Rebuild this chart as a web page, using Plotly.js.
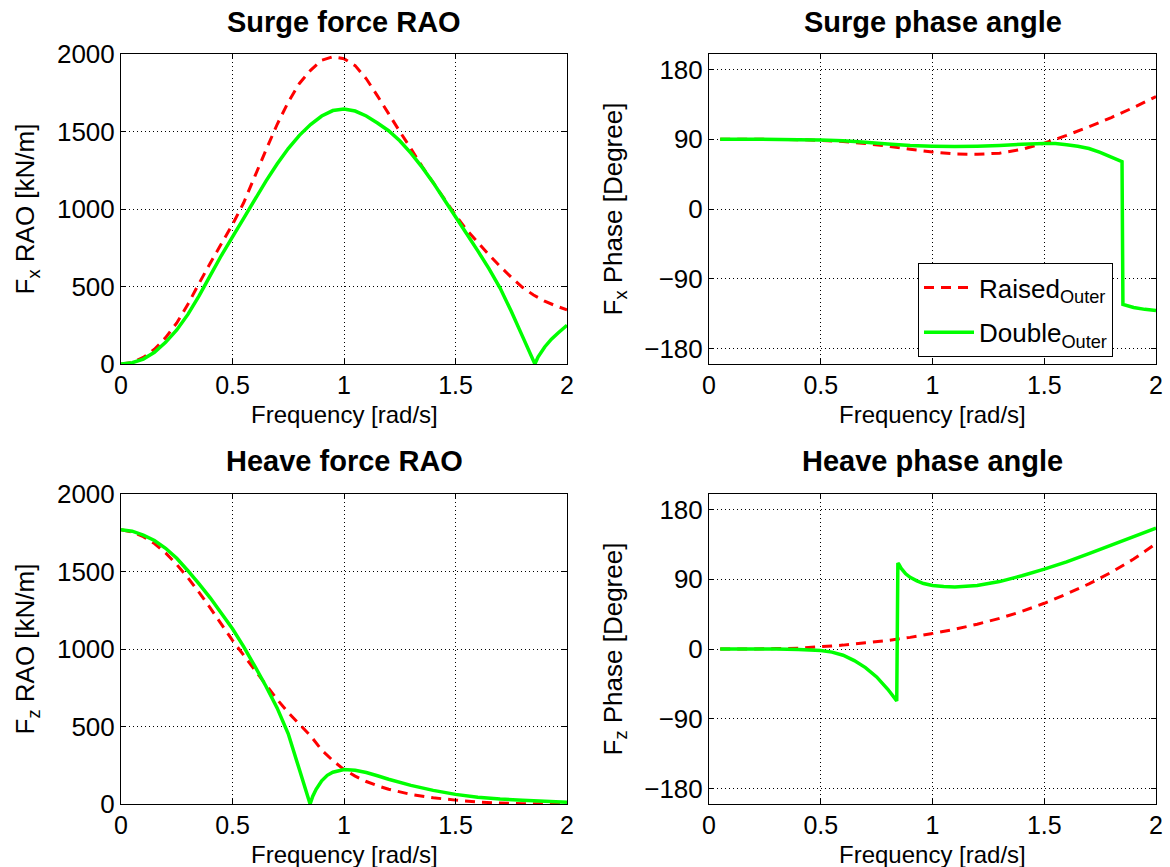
<!DOCTYPE html>
<html>
<head>
<meta charset="utf-8">
<script src="https://cdn.plot.ly/plotly-3.0.1.min.js"></script>
<style>html,body{margin:0;padding:0;background:#fff}#chart{width:1170px;height:867px}</style>
</head>
<body>
<div id="chart"></div>
<script>
// ---------- Surge force RAO ----------
const surgeRaoFreq = [0,0.05,0.1,0.15,0.2,0.25,0.3,0.35,0.4,0.45,0.5,0.55,0.6,0.65,0.7,0.75,0.8,0.85,0.9,0.95,1.0,1.05,1.1,1.15,1.2,1.25,1.3,1.35,1.4,1.45,1.5,1.55,1.6,1.65,1.7,1.75,1.8,1.85,1.9,1.95,2.0];
const surgeRaoRaised = [0,10,42,95,170,265,385,520,650,775,900,1040,1210,1380,1545,1690,1810,1895,1960,1982,1970,1925,1840,1730,1615,1500,1390,1275,1170,1065,960,865,785,705,630,560,495,445,405,375,350];
const surgeRaoDoubleFreq = [0,0.05,0.1,0.15,0.2,0.25,0.3,0.35,0.4,0.45,0.5,0.55,0.6,0.65,0.7,0.75,0.8,0.85,0.9,0.95,1.0,1.05,1.1,1.15,1.2,1.25,1.3,1.35,1.4,1.45,1.5,1.55,1.6,1.65,1.7,1.75,1.8,1.856,1.87,1.9,1.93,1.96,2.0];
const surgeRaoDouble = [0,8,32,75,140,220,320,440,570,700,820,940,1060,1180,1290,1390,1475,1545,1600,1635,1645,1632,1600,1555,1505,1440,1360,1270,1170,1060,950,840,730,615,490,340,180,0,45,110,160,200,250];

// ---------- Surge phase angle ----------
const surgePhaseRaisedFreq = [0.05,0.2,0.4,0.5,0.6,0.7,0.8,0.9,1.0,1.1,1.2,1.3,1.4,1.5,1.6,1.7,1.8,1.9,2.0];
const surgePhaseRaised = [90,90,89.5,88.5,87,84.5,81,77,73.5,71,70.5,72,77,85,95,106,118,131,145];
const surgePhaseDoubleFreq = [0.05,0.2,0.4,0.5,0.6,0.7,0.8,0.9,1.0,1.1,1.2,1.3,1.4,1.5,1.55,1.6,1.65,1.7,1.75,1.8,1.848,1.852,1.9,1.95,2.0];
const surgePhaseDouble = [90,90,89.5,89,88,86,84,82,81,80.5,81,82,83.5,84.5,84.5,83,81,78,73,67,61,-123,-127,-129.5,-131];

// ---------- Heave force RAO ----------
const heaveRaoRaisedFreq = [0,0.05,0.1,0.15,0.2,0.25,0.3,0.35,0.4,0.45,0.5,0.55,0.6,0.65,0.7,0.75,0.8,0.85,0.9,0.95,1.0,1.05,1.1,1.15,1.2,1.3,1.4,1.5,1.6,1.7,1.8,1.9,2.0];
const heaveRaoRaised = [1770,1755,1725,1680,1620,1545,1460,1365,1265,1160,1055,960,865,770,675,590,515,440,348,280,222,180,145,118,95,62,40,25,13,6,2,1,0];
const heaveRaoDoubleFreq = [0,0.05,0.1,0.15,0.2,0.25,0.3,0.35,0.4,0.45,0.5,0.55,0.6,0.65,0.7,0.75,0.8,0.848,0.86,0.875,0.9,0.925,0.95,1.0,1.05,1.1,1.15,1.2,1.3,1.4,1.5,1.6,1.7,1.8,1.9,2.0];
const heaveRaoDouble = [1770,1760,1735,1700,1650,1585,1505,1420,1330,1230,1130,1015,890,760,620,453,222,0,50,95,150,185,205,222,218,203,182,160,120,88,62,44,32,24,17,12];

// ---------- Heave phase angle ----------
const heavePhaseRaisedFreq = [0.05,0.2,0.3,0.4,0.5,0.6,0.7,0.8,0.9,1.0,1.1,1.2,1.3,1.4,1.5,1.6,1.7,1.8,1.9,2.0];
const heavePhaseRaised = [0,0,0.5,1,3,5,8,11,15,20,25.5,32,39.5,48.5,59,71,84,99,116,136];
const heavePhaseDoubleFreq = [0.05,0.2,0.3,0.4,0.5,0.55,0.6,0.65,0.7,0.75,0.8,0.84,0.845,0.85,0.86,0.88,0.9,0.93,0.96,1.0,1.05,1.1,1.2,1.3,1.4,1.5,1.6,1.7,1.8,1.9,2.0];
const heavePhaseDouble = [0,0,0,-0.5,-2,-4,-8,-15,-24,-36,-52,-67,111,109,104,97,92.5,88,84.5,82,80.5,80,82,87,94.5,103,112.5,123,134,145,156];

// ---------- Labels ----------
const seriesNames = ['Raised<sub>Outer</sub>', 'Double<sub>Outer</sub>'];
const panelTitles = ['Surge force RAO', 'Surge phase angle', 'Heave force RAO', 'Heave phase angle'];
const yTitles = ['F<sub>x</sub> RAO [kN/m]', 'F<sub>x</sub> Phase [Degree]', 'F<sub>z</sub> RAO [kN/m]', 'F<sub>z</sub> Phase [Degree]'];
const xTitle = 'Frequency [rad/s]';
const raoTicks = [0,500,1000,1500,2000];
const phaseTicks = [-180,-90,0,90,180];
const freqTicks = [0,0.5,1,1.5,2];
const freqTickText = ['0','0.5','1','1.5','2'];

const RED = '#ff0000', GREEN = '#00ff00';
const redLine = {color: RED, width: 3, dash: '10px,7px'};
const greenLine = {color: GREEN, width: 3.5};

function tr(x, y, xa, ya, name, line, show, grp) {
  return {type: 'scatter', mode: 'lines', x: x, y: y, xaxis: xa, yaxis: ya, legendgroup: grp,
          name: name, line: Object.assign({simplify: false}, line), showlegend: show, hoverinfo: 'skip'};
}

const data = [
  tr(surgeRaoFreq, surgeRaoRaised, 'x', 'y', seriesNames[0], redLine, false, 'r'),
  tr(surgeRaoDoubleFreq, surgeRaoDouble, 'x', 'y', seriesNames[1], greenLine, false, 'd'),
  tr(surgePhaseRaisedFreq, surgePhaseRaised, 'x2', 'y2', seriesNames[0], redLine, true, 'r'),
  tr(surgePhaseDoubleFreq, surgePhaseDouble, 'x2', 'y2', seriesNames[1], greenLine, true, 'd'),
  tr(heaveRaoRaisedFreq, heaveRaoRaised, 'x3', 'y3', seriesNames[0], redLine, false, 'r'),
  tr(heaveRaoDoubleFreq, heaveRaoDouble, 'x3', 'y3', seriesNames[1], greenLine, false, 'd'),
  tr(heavePhaseRaisedFreq, heavePhaseRaised, 'x4', 'y4', seriesNames[0], redLine, false, 'r'),
  tr(heavePhaseDoubleFreq, heavePhaseDouble, 'x4', 'y4', seriesNames[1], greenLine, false, 'd')
];

const FONT = 'Liberation Sans, Arial, Helvetica, sans-serif';
const W = 1170, H = 867;
const colX = [[121/W, 567/W], [709/W, 1156/W]];
const rowY = [[1-364/H, 1-54/H], [1-804/H, 1-494/H]];
const FS = 26;

function xAxis(dom, anchor) {
  return {domain: dom, anchor: anchor, range: [0, 2], tickvals: freqTicks, ticktext: freqTickText,
    ticks: 'inside', ticklen: 5, tickcolor: '#000', showline: true, linecolor: '#000', linewidth: 1, mirror: 'ticks',
    showgrid: true, gridcolor: '#000', gridwidth: 1, griddash: '1px,3px', zeroline: false,
    tickfont: {family: FONT, size: 25, color: '#000'}, ticklabelstandoff: -1,
    fixedrange: true, automargin: false};
}
function yAxis(dom, anchor, range, ticks, title) {
  return {domain: dom, anchor: anchor, range: range, tickvals: ticks,
    ticks: 'inside', ticklen: 5, tickcolor: '#000', showline: true, linecolor: '#000', linewidth: 1, mirror: 'ticks',
    showgrid: true, gridcolor: '#000', gridwidth: 1, griddash: '1px,3px', zeroline: false,
    tickfont: {family: FONT, size: FS, color: '#000'},
    title: {text: title, font: {family: FONT, size: FS, color: '#000'}, standoff: 14},
    fixedrange: true, automargin: false};
}

const titleAnn = panelTitles.map((t, i) => ({
  text: '<b>' + t + '</b>', xref: 'paper', yref: 'paper', showarrow: false,
  x: (colX[i % 2][0] + colX[i % 2][1]) / 2, y: i < 2 ? 1 - 22/H : 1 - 461/H,
  xanchor: 'center', yanchor: 'middle',
  font: {family: FONT, size: 29, color: '#000'}
}));
const xTitleAnn = [0, 1, 2, 3].map(i => ({
  text: xTitle, xref: 'paper', yref: 'paper', showarrow: false,
  x: (colX[i % 2][0] + colX[i % 2][1]) / 2, y: i < 2 ? 1 - 414/H : 1 - 854/H,
  xanchor: 'center', yanchor: 'middle', borderpad: 0,
  font: {family: FONT, size: 24, color: '#000'}
}));

const layout = {
  width: W, height: H,
  margin: {l: 0, r: 0, t: 0, b: 0},
  paper_bgcolor: '#fff', plot_bgcolor: '#fff',
  font: {family: FONT, size: FS, color: '#000'},
  xaxis: xAxis(colX[0], 'y'),
  yaxis: yAxis(rowY[0], 'x', [0, 2000], raoTicks, yTitles[0]),
  xaxis2: xAxis(colX[1], 'y2'),
  yaxis2: yAxis(rowY[0], 'x2', [-200, 200], phaseTicks, yTitles[1]),
  xaxis3: xAxis(colX[0], 'y3'),
  yaxis3: yAxis(rowY[1], 'x3', [0, 2000], raoTicks, yTitles[2]),
  xaxis4: xAxis(colX[1], 'y4'),
  yaxis4: yAxis(rowY[1], 'x4', [-200, 200], phaseTicks, yTitles[3]),
  showlegend: true,
  legend: {x: 1113/W, y: 1-357/H, xanchor: 'right', yanchor: 'bottom',
    bgcolor: '#fff', bordercolor: '#000', borderwidth: 1, traceorder: 'grouped',
    font: {family: FONT, size: FS, color: '#000'}, tracegroupgap: 8, itemwidth: 50},
  annotations: titleAnn.concat(xTitleAnn)
};

Plotly.newPlot('chart', data, layout, {staticPlot: true, displayModeBar: false});
</script>
</body>
</html>
